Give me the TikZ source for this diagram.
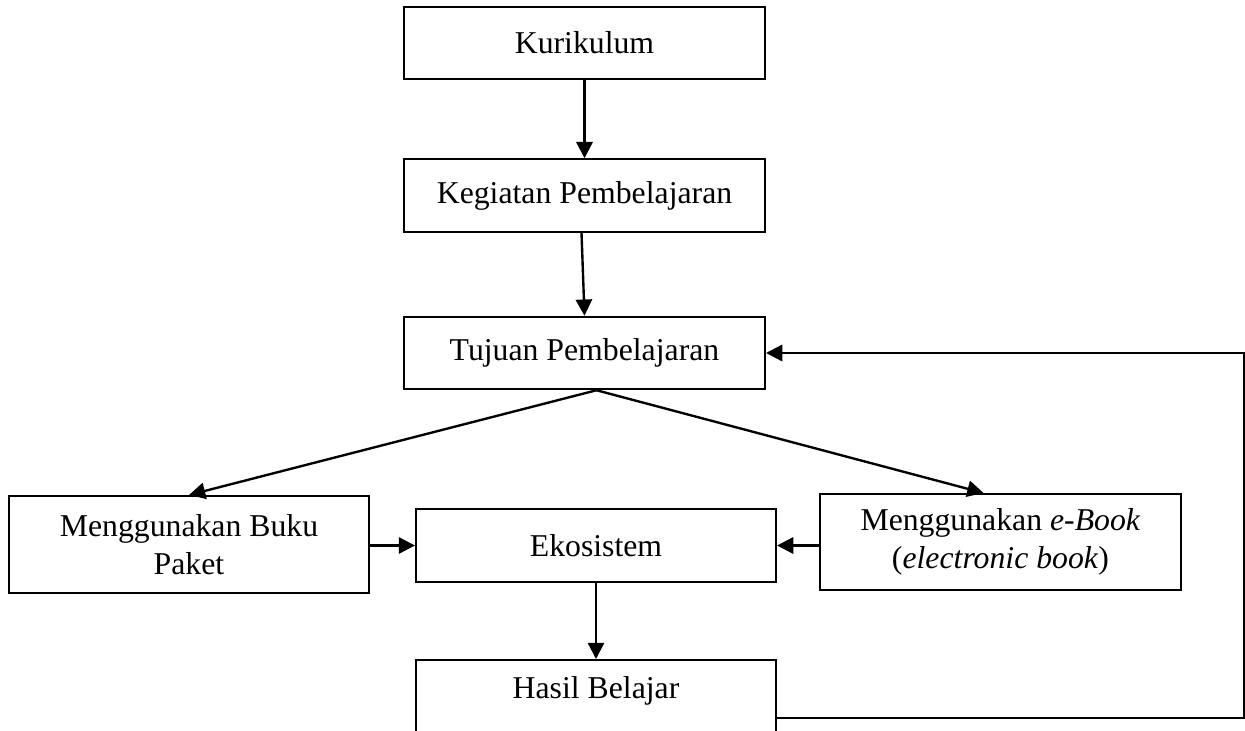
\documentclass[tikz,border=0pt]{standalone}
\usepackage{fontspec}
\setmainfont{Liberation Serif}
\usetikzlibrary{arrows.meta,calc}

\begin{document}
\begin{tikzpicture}[x=0.4pt,y=-0.4pt,
        kotak/.style={draw, line width=0.8pt, minimum width=144.4pt, minimum height=29pt,
            align=center, inner sep=0pt, font=\fontsize{12.7}{15.2}\selectfont},
        panah/.style={line width=0.95pt, -{Triangle[width=6.5pt,length=6.5pt]}}]
        \useasboundingbox (0,0) rectangle (1245,731);
        \clip (0,0) rectangle (1245,731);
        \node[kotak] (kur) at (584.5,43) {Kurikulum};
        \node[kotak] (keg) at (584.5,195.5) {Kegiatan Pembelajaran};
        \node[kotak] (tuj) at (584.5,353) {Tujuan Pembelajaran};
        \node[kotak, minimum width=144pt, minimum height=38.8pt] (buku) at (189,544.5) {Menggunakan Buku\\Paket};
        \node[kotak, minimum width=144pt] (eko) at (596,545.5) {Ekosistem};
        \node[kotak, minimum height=38.4pt] (ebook) at (1000.5,542) {Menggunakan \textit{e-Book}\\(\textit{electronic book})};
        % kotak hasil terpotong di bawah
        \node[kotak, minimum width=144pt, minimum height=48pt] (hasilkotak) at (596,720) {};
        \node[kotak, draw=none] (hasil) at (596,691) {Hasil Belajar};
        \draw[panah] (kur) -- (keg);
        \draw[panah] ($(keg.south)+(-3,0)$) -- (tuj.north);
        \coordinate (cabang) at ($(tuj.south)+(12,0)$);
        \draw[panah] (cabang) -- (buku.north);
        \draw[panah] (cabang) -- ($(ebook.north)+(-17,0)$);
        \draw[panah] (buku.east |- eko.west) -- (eko.west);
        \draw[panah] (ebook.west |- eko.east) -- (eko.east);
        \draw[panah] (eko) -- (hasilkotak.north);
        \coordinate (balik) at (1244,718);
        \draw[panah] (hasilkotak.east |- balik) -- (balik) |- (tuj.east);
    \end{tikzpicture}
\end{document}
